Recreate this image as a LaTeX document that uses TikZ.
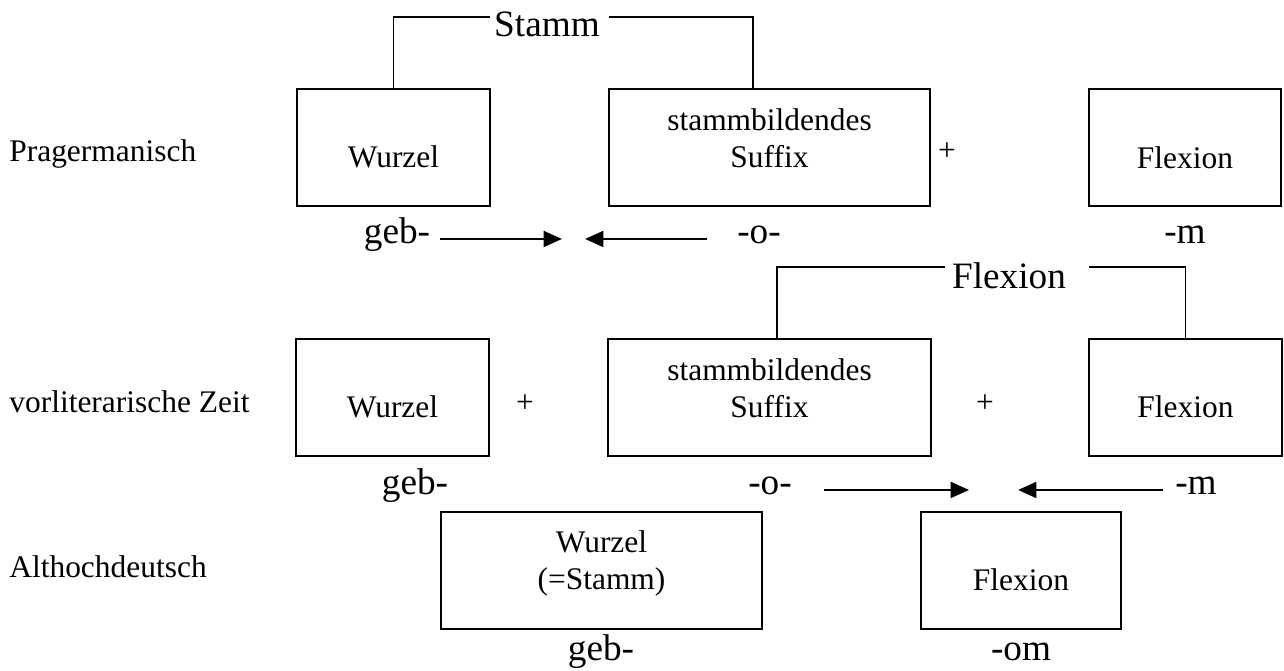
\documentclass[tikz,border=0pt]{standalone}
\usepackage{fontspec}
\setmainfont{Liberation Serif}
\usetikzlibrary{arrows.meta,positioning}

\tikzset{
  box/.style={draw, line width=1.1pt, minimum height=2.34cm, inner sep=0pt},
  boxtext/.style={font=\fontsize{17.9}{21}\selectfont, anchor=base, inner sep=0pt},
  plus/.style={font=\fontsize{17.9}{21}\selectfont, inner sep=0pt},
  period/.style={boxtext, anchor=base west},
  form/.style={font=\fontsize{21.2}{25}\selectfont, anchor=base, inner sep=0pt},
  bracket/.style={line width=1pt},
  arr/.style={line width=1.5pt, -{Triangle[length=10.5pt,width=9pt]}},
}

\begin{document}
\begin{tikzpicture}[x=0.02cm, y=-0.02cm]
\useasboundingbox (0,0) rectangle (1284,670);

  % Pragermanisch
  \node[period] (pgName) at (9,161) {Pragermanisch};
  \node[box, minimum width=3.86cm] (pgW) at (393.5,147.5) {};
  \node[box, minimum width=6.42cm] (pgS) at (769.5,147.5) {};
  \node[box, minimum width=3.84cm] (pgF) at (1185,147.5) {};
  \node[boxtext] (pgWt) at (393.5,167) {Wurzel};
  \node[boxtext] (pgSt1) at (769.5,130) {stammbildendes};
  \node[boxtext] (pgSt2) at (769.5,167) {Suffix};
  \node[boxtext] (pgFt) at (1185,168) {Flexion};
  \node[plus] (pgPlus) at (947,152) {+};
  \node[form] (stamm) at (547,36) {Stamm};
  \coordinate (stammL) at (490,17);
  \coordinate (stammR) at (609,17);
  \draw[bracket] (stammL) -| (pgW.north);
  \draw[bracket] (stammR) -| (753,89);
  \node[form] (pgGeb) at (397,243) {geb-};
  \node[form] (pgO) at (759,243) {-o-};
  \node[form] (pgM) at (1185,243) {-m};
  \coordinate (pgTipR) at (562,233);
  \coordinate (pgTipL) at (585,233);
  \draw[arr, shorten <=5.7pt] (pgGeb.mid east) -- (pgTipR |- pgGeb.mid east);
  \draw[arr, shorten <=17pt] (pgO.mid west) -- (pgTipL |- pgO.mid west);

  % vorliterarische Zeit
  \node[period] (vzName) at (9,412) {vorliterarische Zeit};
  \node[box, minimum width=3.86cm] (vzW) at (392.5,397.5) {};
  \node[box, minimum width=6.46cm] (vzS) at (769.5,397.5) {};
  \node[box, minimum width=3.86cm] (vzF) at (1185.5,397.5) {};
  \node[boxtext] (vzWt) at (392.5,417) {Wurzel};
  \node[boxtext] (vzSt1) at (769.5,380) {stammbildendes};
  \node[boxtext] (vzSt2) at (769.5,417) {Suffix};
  \node[boxtext] (vzFt) at (1185.5,417) {Flexion};
  \node[plus] (vzPlusA) at (525,404) {+};
  \node[plus] (vzPlusB) at (985,404) {+};
  \node[form] (flexion) at (1009,288) {Flexion};
  \coordinate (flexL) at (945,267);
  \coordinate (flexR) at (1089,267);
  \draw[bracket] (flexL) -| (777,339);
  \draw[bracket] (flexR) -| (vzF.north);
  \node[form] (vzGeb) at (415,494) {geb-};
  \node[form] (vzO) at (770,494) {-o-};
  \node[form] (vzM) at (1196,494) {-m};
  \coordinate (vzTipR) at (969,483);
  \coordinate (vzTipL) at (1018,483);
  \draw[arr, shorten <=18.4pt] (vzO.mid east) -- (vzTipR |- vzO.mid east);
  \draw[arr, shorten <=6.8pt] (vzM.mid west) -- (vzTipL |- vzM.mid west);

  % Althochdeutsch
  \node[period] (ahName) at (9,577) {Althochdeutsch};
  \node[box, minimum width=6.42cm] (ahW) at (601.5,570.5) {};
  \node[box, minimum width=4.0cm] (ahF) at (1021,570.5) {};
  \node[boxtext] (ahWt1) at (601.5,552) {Wurzel};
  \node[boxtext] (ahWt2) at (601.5,589) {(=Stamm)};
  \node[boxtext] (ahFt) at (1021,590) {Flexion};
  \node[form] (ahGeb) at (601,660) {geb-};
  \node[form] (ahOm) at (1021,660) {-om};
\end{tikzpicture}
\end{document}
